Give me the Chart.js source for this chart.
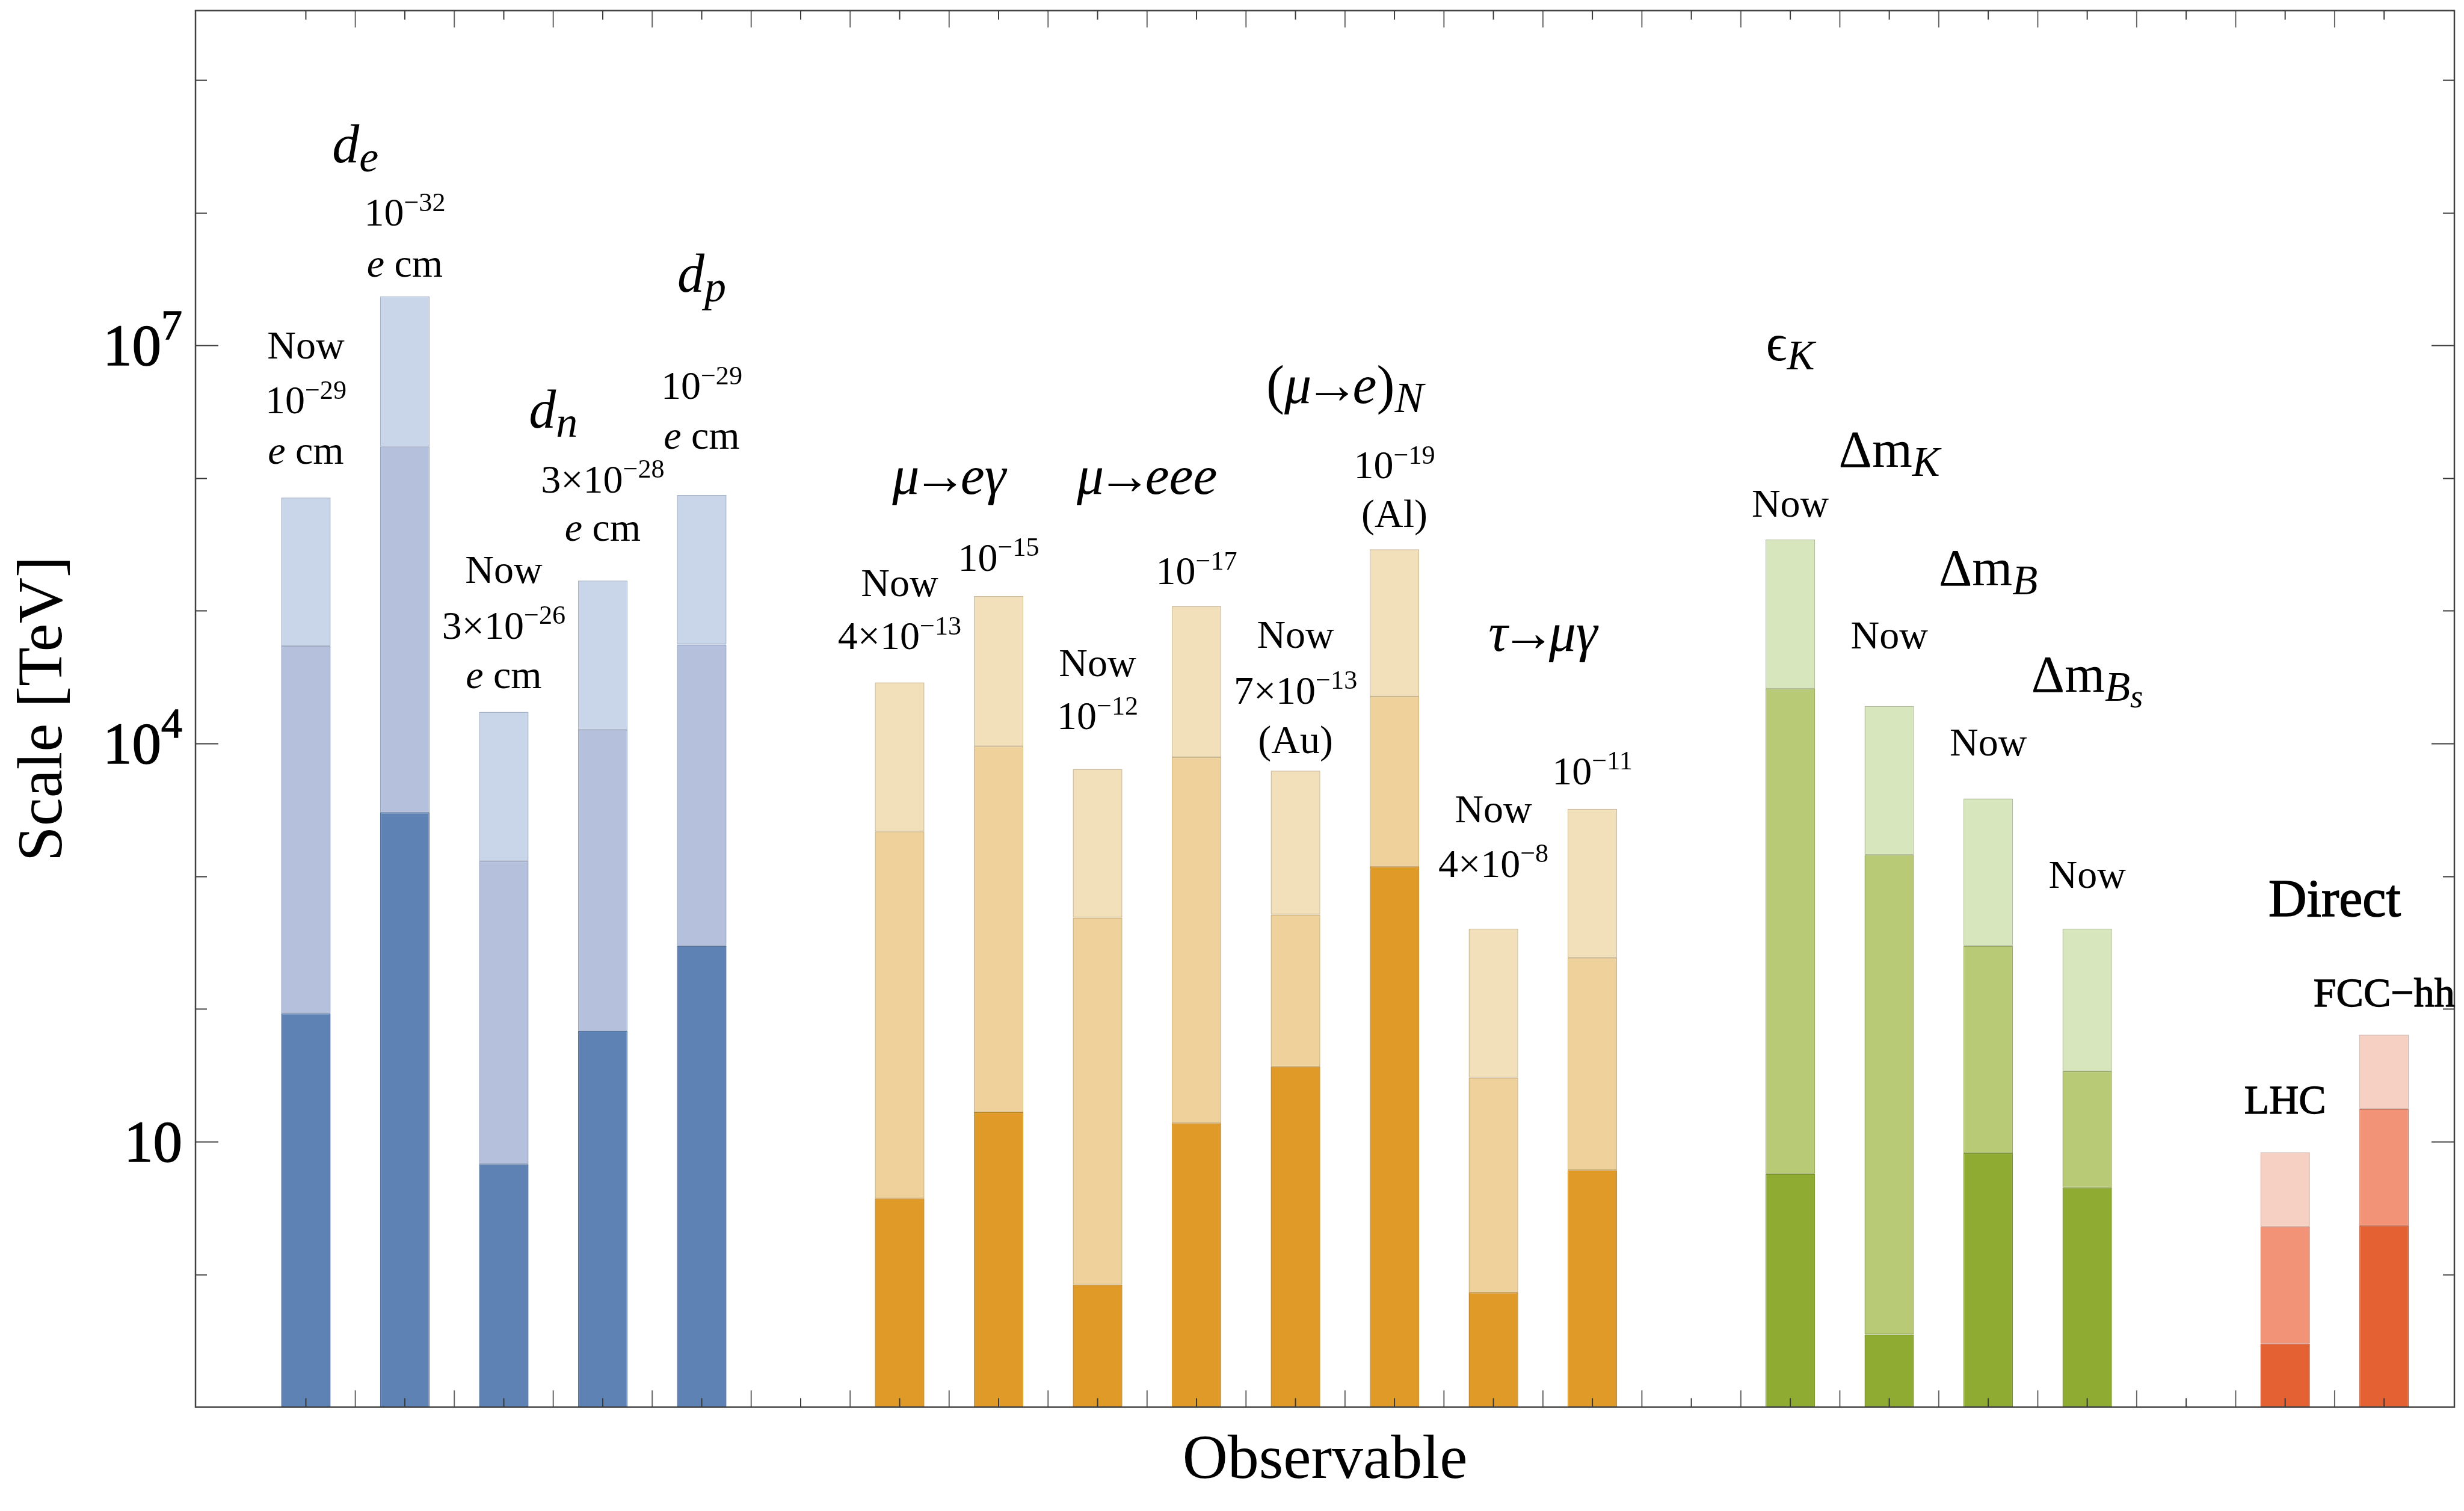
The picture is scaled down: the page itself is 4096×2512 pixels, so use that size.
<!DOCTYPE html>
<html>
<head>
<meta charset="utf-8">
<script src="https://cdn.jsdelivr.net/npm/chart.js@4.4.1/dist/chart.umd.min.js"></script>
<style>
  html, body { margin: 0; padding: 0; background: #ffffff; }
  canvas { display: block; }
</style>
</head>
<body>
<canvas id="reach" width="4096" height="2512"></canvas>
<script>
// Observables, in the order they sit along the horizontal axis
const observables = [
  'd_e now', 'd_e 1e-32', 'd_n now', 'd_n 3e-28', 'd_p 1e-29',
  'mu->e gamma now', 'mu->e gamma 1e-15', 'mu->eee now', 'mu->eee 1e-17',
  '(mu->e)_N now Au', '(mu->e)_N 1e-19 Al', 'tau->mu gamma now', 'tau->mu gamma 1e-11',
  'eps_K now', 'dm_K now', 'dm_B now', 'dm_Bs now',
  'LHC', 'FCC-hh'
];
// Slot index of each observable on the x axis (empty slots separate the families)
const slotOf = [0, 1, 2, 3, 4, 6, 7, 8, 9, 10, 11, 12, 13, 15, 16, 17, 18, 20, 21];
// Family: 0 = EDMs, 1 = charged lepton flavour, 2 = meson mixing, 3 = direct searches
const familyOf = [0, 0, 0, 0, 0, 1, 1, 1, 1, 1, 1, 1, 1, 2, 2, 2, 2, 3, 3];

// Reach in TeV for the three scenarios (lower / middle / upper layer of each bar)
const reachLow = [92.7, 3020, 6.79, 68.7, 299, 3.74, 16.7, 0.837, 13.8, 36.8, 1178, 0.73, 6.10, 5.73, 0.353, 8.22, 4.52, 0.301, 2.32];
const reachMid = [5.43e4, 1.73e6, 1297, 1.27e4, 5.58e4, 2178, 9530, 488, 7890, 514, 2.26e4, 30.3, 243, 2.59e4, 1449, 299, 33.9, 2.29, 17.7];
const reachHigh = [7.13e5, 2.34e7, 1.73e4, 1.69e5, 7.46e5, 2.89e4, 1.29e5, 6430, 1.08e5, 6240, 2.91e5, 402, 3220, 3.44e5, 1.92e4, 3855, 403, 8.30, 64.0];

// Vertical range of the plot (TeV)
const scaleFloor = 0.1;
const scaleCeil = 3.33e9;

// Labelled decades on the scale axis
const yTickValues = [10, 1e4, 1e7];
const yTickBase = ['10', '10', '10'];
const yTickPower = ['', '4', '7'];

// Fill and edge colours per family: [low, mid, high]
const fills = [
  ['#5f82b5', '#b4c0dc', '#c9d5e8'],
  ['#df9a27', '#efd29b', '#f2e0bb'],
  ['#8fab32', '#b8ca76', '#d8e6bd'],
  ['#e46133', '#f29377', '#f5d0c3']
];
const edges = [
  ['#54719c', '#97a5c2', '#a5b2c8'],
  ['#bf8424', '#ccb07c', '#cdbb98'],
  ['#7a9330', '#9aab63', '#b3c09b'],
  ['#c4552e', '#cf7e66', '#d3b0a5']
];

// Text placed on the plot: x slot, log10 of the baseline height, size class, runs of styled text
const notes = [
  [0, 6.903, 'small', [['Now']]],
  [0, 6.489, 'small', [['10'], ['\u221229', 'sup']]],
  [0, 6.106, 'small', [['e', 'i'], [' cm']]],
  [1, 7.901, 'small', [['10'], ['\u221232', 'sup']]],
  [1, 7.518, 'small', [['e', 'i'], [' cm']]],
  [0.5, 8.379, 'math', [['d', 'i'], ['e', 'sub i']]],
  [2, 5.210, 'small', [['Now']]],
  [2, 4.791, 'small', [['3\u00d710'], ['\u221226', 'sup']]],
  [2, 4.418, 'small', [['e', 'i'], [' cm']]],
  [3, 5.892, 'small', [['3\u00d710'], ['\u221228', 'sup']]],
  [3, 5.526, 'small', [['e', 'i'], [' cm']]],
  [2.5, 6.382, 'math', [['d', 'i'], ['n', 'sub i']]],
  [4, 6.596, 'small', [['10'], ['\u221229', 'sup']]],
  [4, 6.223, 'small', [['e', 'i'], [' cm']]],
  [4, 7.402, 'math', [['d', 'i'], ['p', 'sub i']]],
  [6, 5.110, 'small', [['Now']]],
  [6, 4.710, 'small', [['4\u00d710'], ['\u221213', 'sup']]],
  [6.5, 5.883, 'math', [['\u03bc', 'i'], ['\u2192', 'tight'], ['e\u03b3', 'i']]],
  [7, 5.302, 'small', [['10'], ['\u221215', 'sup']]],
  [8, 4.506, 'small', [['Now']]],
  [8, 4.109, 'small', [['10'], ['\u221212', 'sup']]],
  [8.5, 5.883, 'math', [['\u03bc', 'i'], ['\u2192', 'tight'], ['eee', 'i']]],
  [9, 5.200, 'small', [['10'], ['\u221217', 'sup']]],
  [10, 4.722, 'small', [['Now']]],
  [10, 4.301, 'small', [['7\u00d710'], ['\u221213', 'sup']]],
  [10, 3.926, 'small', [['(Au)']]],
  [11, 5.997, 'small', [['10'], ['\u221219', 'sup']]],
  [11, 5.633, 'small', [['(Al)']]],
  [10.5, 6.565, 'math', [['('], ['\u03bc', 'i'], ['\u2192', 'tight'], ['e', 'i'], [')'], ['N', 'sub i']]],
  [12.5, 4.699, 'math', [['\u03c4', 'i'], ['\u2192', 'tight'], ['\u03bc\u03b3', 'i']]],
  [12, 3.408, 'small', [['Now']]],
  [12, 2.996, 'small', [['4\u00d710'], ['\u22128', 'sup']]],
  [13, 3.693, 'small', [['10'], ['\u221211', 'sup']]],
  [15, 6.888, 'greek', [['\u03f5'], ['K', 'sub i']]],
  [15, 5.709, 'small', [['Now']]],
  [16, 6.085, 'greek', [['\u0394m'], ['K', 'sub i']]],
  [16, 4.715, 'small', [['Now']]],
  [17, 5.193, 'greek', [['\u0394m'], ['B', 'sub i']]],
  [17, 3.908, 'small', [['Now']]],
  [18, 4.389, 'greek', [['\u0394m'], ['B', 'sub i'], ['s', 'subsub i']]],
  [18, 2.913, 'small', [['Now']]],
  [20.5, 2.699, 'title', [['Direct']]],
  [21, 2.021, 'collider', [['FCC\u2212hh']]],
  [20, 1.215, 'collider', [['LHC']]]
];

const SERIF = '"Liberation Serif", "DejaVu Serif", "Times New Roman", serif';
const textSize = { small: 66, math: 90, greek: 86, title: 88, collider: 68 };
// Size classes set in a heavier face (drawn with a thin outline on top of the fill)
const heavyText = { title: 1.6, collider: 1.3 };

function drawRuns(ctx, runs, cx, baseY, size, heavy) {
  const parts = runs.map(([t, style = '']) => {
    const tags = style.split(' ');
    const sup = tags.includes('sup');
    const subsub = tags.includes('subsub');
    const sub = tags.includes('sub');
    const k = sup ? 0.67 : subsub ? 0.64 : sub ? 0.8 : 1;
    const dy = sup ? -0.37 * size : subsub ? 0.30 * size : sub ? 0.17 * size : 0;
    const font = (tags.includes('i') ? 'italic ' : '') + (size * k).toFixed(1) + 'px ' + SERIF;
    ctx.font = font;
    const w = ctx.measureText(t).width;
    // arrows sit closer to their neighbours than the font's own side bearings allow
    const trim = tags.includes('tight') ? 0.12 * size : 0;
    return { t, font, dy, w: w - 2 * trim, shift: -trim };
  });
  const total = parts.reduce((s, p) => s + p.w, 0);
  let x = cx - total / 2;
  for (const p of parts) {
    ctx.font = p.font;
    ctx.fillText(p.t, x + p.shift, baseY + p.dy);
    if (heavy) {
      ctx.lineWidth = heavy;
      ctx.strokeText(p.t, x + p.shift, baseY + p.dy);
    }
    x += p.w;
  }
}

function segment(ctx, x0, y0, x1, y1) {
  ctx.beginPath();
  ctx.moveTo(x0, y0);
  ctx.lineTo(x1, y1);
  ctx.stroke();
}

// Frame, inward ticks, tick labels, axis titles and plot annotations
const framePlugin = {
  id: 'frameAndText',
  afterDatasetsDraw(chart) {
    const { ctx, chartArea: a, scales: { x, y } } = chart;
    ctx.save();
    ctx.strokeStyle = '#3a3a3a';
    ctx.lineWidth = 2;

    // decade ticks on left and right edges
    for (let e = 0; e <= 9; e++) {
      const py = Math.round(y.getPixelForValue(Math.pow(10, e))) + 0.5;
      const len = (e % 3 === 1) ? 38 : 19;
      segment(ctx, a.left, py, a.left + len, py);
      segment(ctx, a.right - len, py, a.right, py);
    }
    // slot ticks on bottom and top edges
    for (let s = 0; s <= 21; s++) {
      const px = x.getPixelForValue(s);
      segment(ctx, px, a.bottom, px, a.bottom - 15);
      segment(ctx, px, a.top, px, a.top + 15);
    }
    ctx.strokeStyle = '#666666';
    for (let s = 0.5; s <= 20.5; s += 1) {
      const px = x.getPixelForValue(s);
      segment(ctx, px, a.bottom, px, a.bottom - 28);
      segment(ctx, px, a.top, px, a.top + 28);
    }

    // frame
    ctx.strokeStyle = '#404040';
    ctx.lineWidth = 2.5;
    ctx.strokeRect(a.left, a.top, a.right - a.left, a.bottom - a.top);

    ctx.fillStyle = '#000000';
    ctx.strokeStyle = '#000000';
    ctx.textBaseline = 'alphabetic';
    ctx.textAlign = 'left';

    // scale-axis tick labels
    const tSize = 97;
    const supK = 0.72;
    ctx.lineWidth = 1.4;
    yTickValues.forEach((v, i) => {
      const py = y.getPixelForValue(v) + 0.338 * tSize;
      ctx.font = tSize + 'px ' + SERIF;
      const wb = ctx.measureText(yTickBase[i]).width;
      ctx.font = (tSize * supK).toFixed(1) + 'px ' + SERIF;
      const wp = yTickPower[i] ? ctx.measureText(yTickPower[i]).width : 0;
      const xr = a.left - 22;
      ctx.font = tSize + 'px ' + SERIF;
      ctx.fillText(yTickBase[i], xr - wp - wb, py);
      ctx.strokeText(yTickBase[i], xr - wp - wb, py);
      if (yTickPower[i]) {
        ctx.font = (tSize * supK).toFixed(1) + 'px ' + SERIF;
        ctx.fillText(yTickPower[i], xr - wp, py - 0.44 * tSize);
        ctx.strokeText(yTickPower[i], xr - wp, py - 0.44 * tSize);
      }
    });

    // axis titles
    ctx.textAlign = 'center';
    ctx.font = '104px ' + SERIF;
    ctx.fillText('Observable', (a.left + a.right) / 2, 2457);
    ctx.save();
    ctx.translate(102, (a.top + a.bottom) / 2);
    ctx.rotate(-Math.PI / 2);
    ctx.font = '106px ' + SERIF;
    ctx.fillText('Scale [TeV]', 0, 0);
    ctx.restore();

    // annotations
    ctx.textAlign = 'left';
    for (const [s, lg, kind, runs] of notes) {
      drawRuns(ctx, runs, x.getPixelForValue(s), y.getPixelForValue(Math.pow(10, lg)),
        textSize[kind], heavyText[kind] || 0);
    }
    ctx.restore();
  }
};

function layer(name, lows, highs, shade) {
  return {
    label: name,
    data: slotOf.map((s, i) => ({ x: s, y: [lows[i], highs[i]] })),
    backgroundColor: familyOf.map(f => fills[f][shade]),
    borderColor: familyOf.map(f => edges[f][shade]),
    borderWidth: 1.5,
    borderSkipped: false,
    grouped: false,
    categoryPercentage: 1,
    barPercentage: 0.5
  };
}

new Chart(document.getElementById('reach'), {
  type: 'bar',
  data: {
    datasets: [
      layer('low', slotOf.map(() => scaleFloor), reachLow, 0),
      layer('mid', reachLow, reachMid, 1),
      layer('high', reachMid, reachHigh, 2)
    ]
  },
  options: {
    responsive: false,
    animation: false,
    devicePixelRatio: 1,
    layout: { padding: { left: 325, right: 16, top: 17.6, bottom: 172.6 } },
    plugins: { legend: { display: false }, tooltip: { enabled: false } },
    scales: {
      x: {
        type: 'linear',
        offset: false,
        min: -1.115,
        max: 21.71,
        display: false,
        afterBuildTicks: (sc) => { sc.ticks = slotOf.map(v => ({ value: v })); }
      },
      y: {
        type: 'logarithmic',
        min: scaleFloor,
        max: scaleCeil,
        display: false
      }
    }
  },
  plugins: [framePlugin]
});
</script>
</body>
</html>
